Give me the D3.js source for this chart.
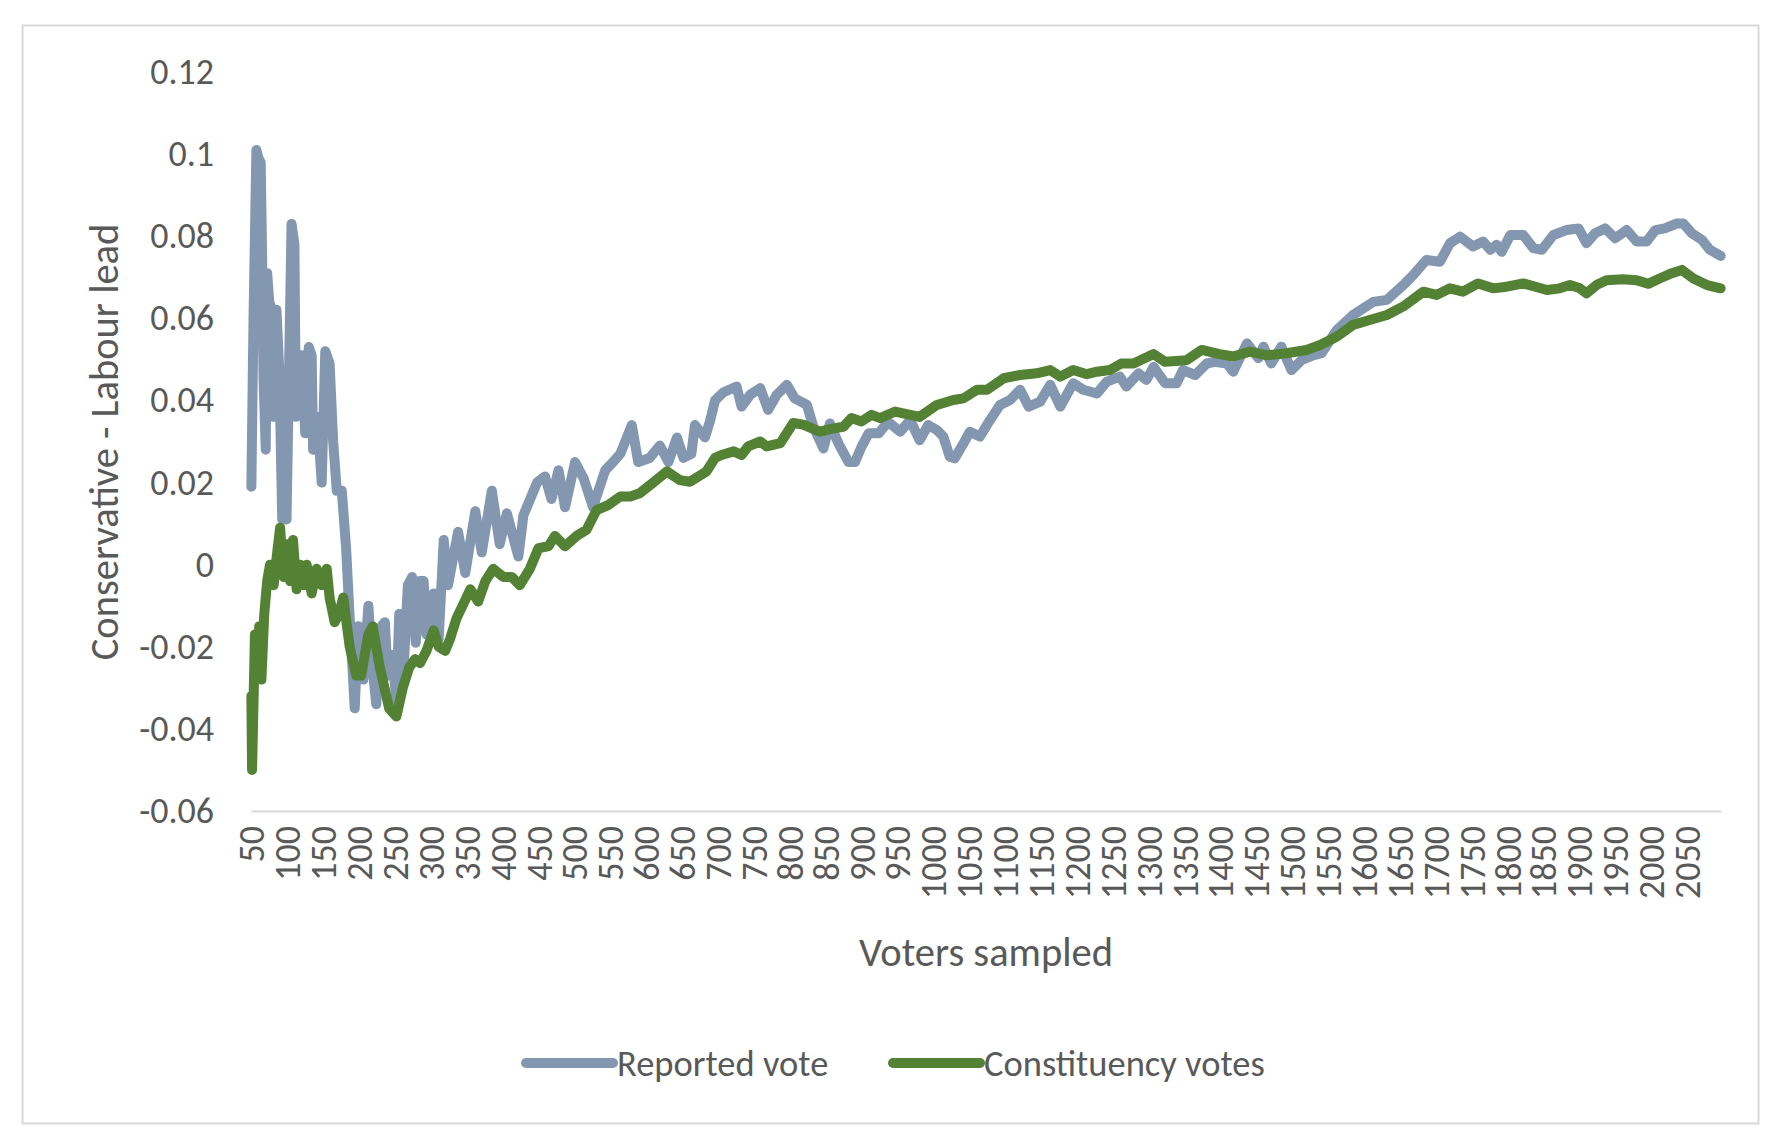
<!DOCTYPE html>
<html>
<head>
<meta charset="utf-8">
<script src="https://cdn.jsdelivr.net/npm/d3@7"></script>
<style>
  body { margin: 0; background: #fff; }
  text { font-family: Carlito, Calibri, Lato, sans-serif; fill: #595959; }
</style>
</head>
<body>
<svg id="chart"></svg>
<script>
// voters sampled (x) and Conservative - Labour lead (y)
const reportedVoters = [50,53,57,60,63,65,67,70,72,75,79,81,85,89,93,99,106,110,112,116,120,125,130,134,136,142,148,153,159,164,169,176,182,187,194,199,206,213,217,224,231,236,240,247,252,256,262,268,274,279,285,290,294,304,311,318,324,338,348,362,371,385,396,406,422,429,448,459,468,478,487,501,513,526,543,554,564,580,589,605,619,631,643,652,663,668,682,689,696,708,726,733,745,759,770,782,796,807,824,833,847,856,868,882,891,900,910,924,937,954,968,981,993,1005,1014,1023,1030,1042,1051,1065,1079,1093,1107,1121,1133,1149,1163,1177,1195,1209,1228,1242,1260,1269,1286,1297,1307,1323,1339,1348,1365,1381,1392,1409,1418,1437,1453,1460,1471,1485,1499,1513,1529,1541,1562,1585,1613,1632,1655,1669,1687,1706,1720,1734,1752,1766,1776,1785,1792,1804,1822,1836,1848,1864,1882,1899,1910,1922,1936,1950,1966,1980,1994,2006,2019,2036,2045,2057,2071,2082,2097];
const reportedLead = [0.019,0.060,0.101,0.099,0.098,0.075,0.045,0.028,0.071,0.064,0.062,0.036,0.062,0.047,0.011,0.011,0.083,0.078,0.036,0.051,0.051,0.032,0.053,0.051,0.028,0.036,0.020,0.052,0.049,0.030,0.018,0.018,0.004,-0.013,-0.035,-0.015,-0.028,-0.010,-0.022,-0.034,-0.015,-0.014,-0.027,-0.022,-0.034,-0.012,-0.026,-0.005,-0.003,-0.019,-0.004,-0.004,-0.017,-0.007,-0.018,0.006,-0.005,0.008,-0.002,0.013,0.003,0.018,0.005,0.0125,0.002,0.012,0.020,0.0215,0.016,0.023,0.014,0.025,0.021,0.014,0.023,0.025,0.027,0.034,0.025,0.026,0.029,0.025,0.031,0.026,0.027,0.034,0.031,0.035,0.040,0.042,0.0434,0.0385,0.0414,0.043,0.0377,0.0414,0.0438,0.0405,0.0389,0.0336,0.0283,0.0344,0.0295,0.025,0.025,0.0287,0.032,0.032,0.0348,0.0324,0.0352,0.0303,0.034,0.0328,0.0312,0.0263,0.0259,0.0295,0.0324,0.0312,0.0352,0.0389,0.0401,0.0426,0.0385,0.0397,0.0438,0.0385,0.0442,0.0426,0.0417,0.0446,0.0458,0.0434,0.0466,0.045,0.0482,0.0442,0.0442,0.0474,0.0462,0.049,0.0494,0.049,0.047,0.0539,0.0503,0.0531,0.049,0.0531,0.0474,0.0498,0.051,0.0515,0.0571,0.0608,0.064,0.0645,0.0681,0.0706,0.0742,0.0738,0.0783,0.0799,0.0775,0.0787,0.0767,0.0779,0.0762,0.0803,0.0803,0.0771,0.0767,0.0803,0.0815,0.0819,0.0783,0.0807,0.0819,0.0795,0.0815,0.0787,0.0787,0.0815,0.0819,0.0831,0.0831,0.0807,0.0791,0.0767,0.0752];

const constituencyVoters = [50,51,55,58,61,64,68,72,76,81,86,90,95,100,104,108,113,118,123,127,134,141,148,155,159,166,172,178,187,196,203,213,219,229,242,252,261,270,278,285,294,304,311,320,327,336,355,366,376,387,401,413,424,438,450,464,473,487,503,517,531,547,564,578,591,610,629,647,661,684,696,705,722,733,742,759,768,787,805,819,831,842,861,875,886,900,914,926,947,968,981,1005,1028,1042,1061,1075,1098,1121,1144,1163,1177,1195,1214,1228,1246,1262,1279,1307,1323,1353,1374,1399,1418,1441,1465,1492,1520,1539,1562,1585,1608,1632,1655,1683,1701,1720,1738,1759,1780,1799,1822,1855,1873,1887,1901,1910,1924,1938,1961,1980,1996,2012,2029,2043,2059,2078,2097];
const constituencyLead = [-0.032,-0.050,-0.017,-0.027,-0.015,-0.028,-0.012,-0.004,0.000,-0.005,0.003,0.009,-0.003,0.005,-0.004,0.006,-0.006,0.000,-0.005,0.000,-0.007,-0.001,-0.005,-0.001,-0.008,-0.014,-0.012,-0.008,-0.020,-0.027,-0.027,-0.017,-0.015,-0.025,-0.035,-0.037,-0.030,-0.025,-0.023,-0.024,-0.021,-0.016,-0.020,-0.021,-0.018,-0.013,-0.006,-0.009,-0.004,-0.001,-0.003,-0.003,-0.005,-0.001,0.004,0.0045,0.007,0.0045,0.007,0.0085,0.0133,0.0145,0.0166,0.0166,0.0174,0.020,0.0227,0.0206,0.0202,0.0227,0.026,0.0267,0.0276,0.0267,0.0288,0.030,0.0288,0.0296,0.0345,0.0341,0.0332,0.0324,0.0332,0.0336,0.0357,0.0349,0.0365,0.0357,0.0373,0.0365,0.036,0.0389,0.0401,0.0405,0.0426,0.0426,0.0454,0.0462,0.0466,0.0474,0.0458,0.0474,0.0464,0.047,0.0474,0.049,0.049,0.0513,0.0494,0.0498,0.0523,0.0513,0.0507,0.0519,0.051,0.0515,0.0523,0.0535,0.0555,0.0584,0.0596,0.0608,0.0629,0.0665,0.0657,0.0673,0.0665,0.0685,0.0673,0.0677,0.0685,0.0669,0.0673,0.0681,0.0673,0.0661,0.0681,0.0693,0.0695,0.0693,0.0684,0.0697,0.0710,0.0718,0.0697,0.0681,0.0673];

const yTicks = [-0.06, -0.04, -0.02, 0, 0.02, 0.04, 0.06, 0.08, 0.1, 0.12];
const xTicks = d3.range(50, 2051, 50);
const seriesNames = ["Reported vote", "Constituency votes"];
const seriesColors = ["#8497B0", "#548235"];

const width = 1767;
const height = 1132;
const svg = d3.select("#chart")
  .attr("width", width)
  .attr("height", height);

// chart frame
svg.append("rect")
  .attr("x", 22.5).attr("y", 25.5)
  .attr("width", 1736).attr("height", 1098)
  .attr("fill", "#fff")
  .attr("stroke", "#d9d9d9")
  .attr("stroke-width", 2);

const x = d3.scaleLinear().domain([49.5, 2097.5]).range([251, 1721]);
const y = d3.scaleLinear().domain([-0.06, 0.12]).range([811, 72]);

// y axis (labels only)
const yAxis = svg.append("g")
  .attr("transform", "translate(251,0)")
  .call(d3.axisLeft(y).tickValues(yTicks).tickSize(0).tickPadding(37)
    .tickFormat(d => String(+d.toFixed(2))));
yAxis.select(".domain").remove();
yAxis.selectAll("text")
  .attr("font-size", 36);

// x axis
const xAxis = svg.append("g")
  .attr("transform", "translate(0,811)")
  .call(d3.axisBottom(x).tickValues(xTicks).tickSize(0).tickFormat(d => d));
xAxis.select(".domain")
  .attr("stroke", "#d9d9d9")
  .attr("stroke-width", 2);
xAxis.selectAll("text")
  .attr("font-size", 36)
  .attr("transform", "rotate(-90)")
  .attr("text-anchor", "end")
  .attr("x", -15)
  .attr("y", 0)
  .attr("dy", "0.35em");
// let the stylesheet font apply to tick labels
svg.selectAll(".tick text").style("font-family", null);
svg.selectAll("g").attr("font-family", null);

// axis titles
svg.append("text")
  .attr("transform", "translate(104,442) rotate(-90)")
  .attr("text-anchor", "middle")
  .attr("dy", "0.35em")
  .attr("font-size", 40.5)
  .text("Conservative - Labour lead");

svg.append("text")
  .attr("x", 986).attr("y", 966)
  .attr("text-anchor", "middle")
  .attr("font-size", 40.5)
  .text("Voters sampled");

// lines
const line = d3.line()
  .x(d => x(d[0]))
  .y(d => y(d[1]));

const series = [
  d3.zip(reportedVoters, reportedLead),
  d3.zip(constituencyVoters, constituencyLead)
];

svg.append("g")
  .selectAll("path")
  .data(series)
  .enter().append("path")
    .attr("d", line)
    .attr("fill", "none")
    .attr("stroke", (d, i) => seriesColors[i])
    .attr("stroke-width", 10)
    .attr("stroke-linejoin", "round")
    .attr("stroke-linecap", "round");

// legend
const legendX = [526, 893];
const legend = svg.append("g")
  .selectAll("g")
  .data(seriesNames)
  .enter().append("g")
    .attr("transform", (d, i) => `translate(${legendX[i]},1063)`);
legend.append("line")
  .attr("x1", 0).attr("x2", 87)
  .attr("stroke", (d, i) => seriesColors[i])
  .attr("stroke-width", 10)
  .attr("stroke-linecap", "round");
legend.append("text")
  .attr("x", 91)
  .attr("dy", "0.35em")
  .attr("font-size", 36.5)
  .text(d => d);
</script>
</body>
</html>
